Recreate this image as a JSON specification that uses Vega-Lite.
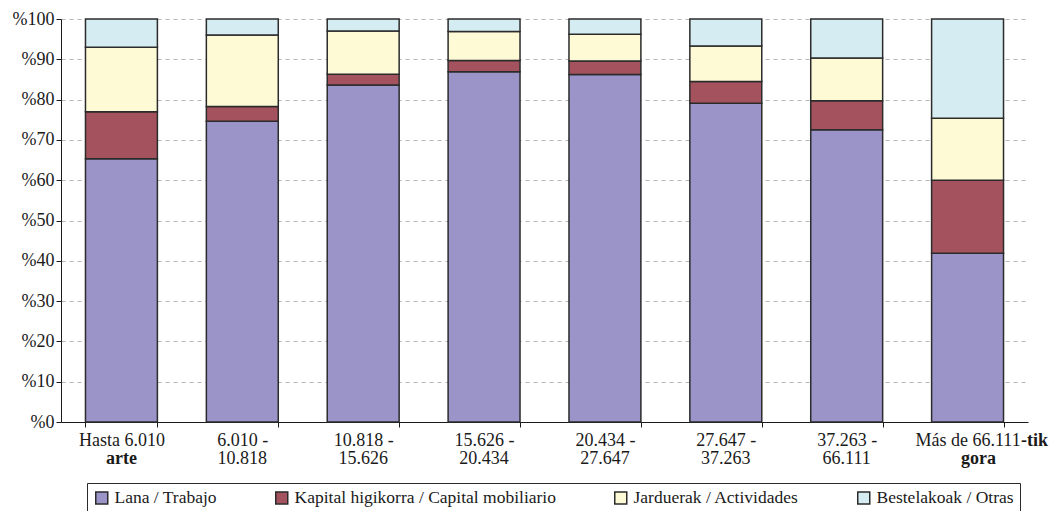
{
  "$schema": "https://vega.github.io/schema/vega-lite/v6.json",
  "width": 967,
  "height": 403,
  "padding": {"left": 12, "top": 10, "right": 5, "bottom": 0},
  "config": {
    "font": "Liberation Serif",
    "view": {"stroke": null},
    "axis": {"labelFont": "Liberation Serif", "labelFontSize": 18, "labelColor": "#1a1a1a", "domainColor": "#1a1a1a", "tickColor": "#1a1a1a", "title": null}
  },
  "data": {
    "values": [
      {"cat": "Hasta 6.010 arte", "serie": "Lana / Trabajo", "o": 1, "v": 65.3},
      {"cat": "Hasta 6.010 arte", "serie": "Kapital higikorra / Capital mobiliario", "o": 2, "v": 11.7},
      {"cat": "Hasta 6.010 arte", "serie": "Jarduerak / Actividades", "o": 3, "v": 16.0},
      {"cat": "Hasta 6.010 arte", "serie": "Bestelakoak / Otras", "o": 4, "v": 7.0},
      {"cat": "6.010 - 10.818", "serie": "Lana / Trabajo", "o": 1, "v": 74.6},
      {"cat": "6.010 - 10.818", "serie": "Kapital higikorra / Capital mobiliario", "o": 2, "v": 3.7},
      {"cat": "6.010 - 10.818", "serie": "Jarduerak / Actividades", "o": 3, "v": 17.7},
      {"cat": "6.010 - 10.818", "serie": "Bestelakoak / Otras", "o": 4, "v": 4.0},
      {"cat": "10.818 - 15.626", "serie": "Lana / Trabajo", "o": 1, "v": 83.6},
      {"cat": "10.818 - 15.626", "serie": "Kapital higikorra / Capital mobiliario", "o": 2, "v": 2.7},
      {"cat": "10.818 - 15.626", "serie": "Jarduerak / Actividades", "o": 3, "v": 10.7},
      {"cat": "10.818 - 15.626", "serie": "Bestelakoak / Otras", "o": 4, "v": 3.0},
      {"cat": "15.626 - 20.434", "serie": "Lana / Trabajo", "o": 1, "v": 86.9},
      {"cat": "15.626 - 20.434", "serie": "Kapital higikorra / Capital mobiliario", "o": 2, "v": 2.8},
      {"cat": "15.626 - 20.434", "serie": "Jarduerak / Actividades", "o": 3, "v": 7.2},
      {"cat": "15.626 - 20.434", "serie": "Bestelakoak / Otras", "o": 4, "v": 3.1},
      {"cat": "20.434 - 27.647", "serie": "Lana / Trabajo", "o": 1, "v": 86.2},
      {"cat": "20.434 - 27.647", "serie": "Kapital higikorra / Capital mobiliario", "o": 2, "v": 3.4},
      {"cat": "20.434 - 27.647", "serie": "Jarduerak / Actividades", "o": 3, "v": 6.6},
      {"cat": "20.434 - 27.647", "serie": "Bestelakoak / Otras", "o": 4, "v": 3.8},
      {"cat": "27.647 - 37.263", "serie": "Lana / Trabajo", "o": 1, "v": 79.1},
      {"cat": "27.647 - 37.263", "serie": "Kapital higikorra / Capital mobiliario", "o": 2, "v": 5.4},
      {"cat": "27.647 - 37.263", "serie": "Jarduerak / Actividades", "o": 3, "v": 8.8},
      {"cat": "27.647 - 37.263", "serie": "Bestelakoak / Otras", "o": 4, "v": 6.7},
      {"cat": "37.263 - 66.111", "serie": "Lana / Trabajo", "o": 1, "v": 72.5},
      {"cat": "37.263 - 66.111", "serie": "Kapital higikorra / Capital mobiliario", "o": 2, "v": 7.2},
      {"cat": "37.263 - 66.111", "serie": "Jarduerak / Actividades", "o": 3, "v": 10.6},
      {"cat": "37.263 - 66.111", "serie": "Bestelakoak / Otras", "o": 4, "v": 9.7},
      {"cat": "Más de 66.111-tik gora", "serie": "Lana / Trabajo", "o": 1, "v": 41.9},
      {"cat": "Más de 66.111-tik gora", "serie": "Kapital higikorra / Capital mobiliario", "o": 2, "v": 18.1},
      {"cat": "Más de 66.111-tik gora", "serie": "Jarduerak / Actividades", "o": 3, "v": 15.4},
      {"cat": "Más de 66.111-tik gora", "serie": "Bestelakoak / Otras", "o": 4, "v": 24.6}
    ]
  },
  "resolve": {"axis": {"x": "independent"}},
  "layer": [
    {
      "mark": {"type": "bar", "stroke": "#2b2b2b", "strokeWidth": 1.5},
      "encoding": {
        "x": {
          "field": "cat", "type": "nominal", "sort": null,
          "scale": {"paddingInner": 0.405, "paddingOuter": 0.2025},
          "axis": {
            "orient": "bottom",
            "labelAngle": 0, "tickBand": "extent", "tickSize": 5, "labelPadding": 4,
            "labelExpr": "!datum.value ? '' : datum.value == 'Hasta 6.010 arte' ? 'Hasta 6.010' : datum.value == 'Más de 66.111-tik gora' ? 'Más de 66.111' : split(datum.value, ' - ')[0] + ' -'"
          }
        },
        "y": {
          "field": "v", "type": "quantitative", "stack": "zero",
          "scale": {"domain": [0, 100], "nice": false},
          "axis": {
            "values": [0, 10, 20, 30, 40, 50, 60, 70, 80, 90, 100],
            "labelExpr": "'%' + datum.value",
            "grid": true, "gridColor": "#b5b5b5", "gridDash": [4, 4], "gridWidth": 1,
            "tickSize": 5, "labelPadding": 2
          }
        },
        "color": {
          "field": "serie", "type": "nominal",
          "sort": ["Lana / Trabajo", "Kapital higikorra / Capital mobiliario", "Jarduerak / Actividades", "Bestelakoak / Otras"],
          "scale": {
            "domain": ["Lana / Trabajo", "Kapital higikorra / Capital mobiliario", "Jarduerak / Actividades", "Bestelakoak / Otras"],
            "range": ["#9a94c8", "#a5525f", "#fffad6", "#d4ecf2"]
          },
          "legend": {
            "title": null, "orient": "none", "legendX": 26, "legendY": 464,
            "direction": "horizontal", "columns": 4, "columnPadding": 55,
            "symbolType": "square", "symbolSize": 144, "symbolStrokeColor": "#2b2b2b", "symbolStrokeWidth": 1.5,
            "symbolOpacity": 1, "labelFont": "Liberation Serif", "labelFontSize": 17.5, "labelColor": "#1a1a1a",
            "labelOffset": 4, "labelLimit": 400,
            "strokeColor": "#2b2b2b", "padding": 6
          }
        },
        "order": {"field": "o", "type": "quantitative"}
      }
    },
    {
      "mark": {"type": "bar", "opacity": 0},
      "encoding": {
        "x": {
          "field": "cat", "type": "nominal", "sort": null,
          "axis": {
            "orient": "bottom",
            "labelAngle": 0, "domain": false, "ticks": false, "labelPadding": 27,
            "labelFontWeight": {"condition": {"test": "datum.value == 'Hasta 6.010 arte' || datum.value == 'Más de 66.111-tik gora'", "value": "bold"}, "value": "normal"},
            "labelOffset": {"condition": {"test": "datum.value == 'Más de 66.111-tik gora'", "value": 11}, "value": 0},
            "labelExpr": "!datum.value ? '' : datum.value == 'Hasta 6.010 arte' ? 'arte' : datum.value == 'Más de 66.111-tik gora' ? 'gora' : split(datum.value, ' - ')[1]"
          }
        }
      }
    },
    {
      "mark": {"type": "bar", "opacity": 0},
      "encoding": {
        "x": {
          "field": "cat", "type": "nominal", "sort": null,
          "axis": {
            "orient": "bottom",
            "labelAngle": 0, "domain": false, "ticks": false, "labelPadding": 9,
            "labelFontWeight": "bold", "labelOffset": 67,
            "labelExpr": "datum.value == 'Más de 66.111-tik gora' ? '-tik' : ''"
          }
        }
      }
    }
  ]
}
